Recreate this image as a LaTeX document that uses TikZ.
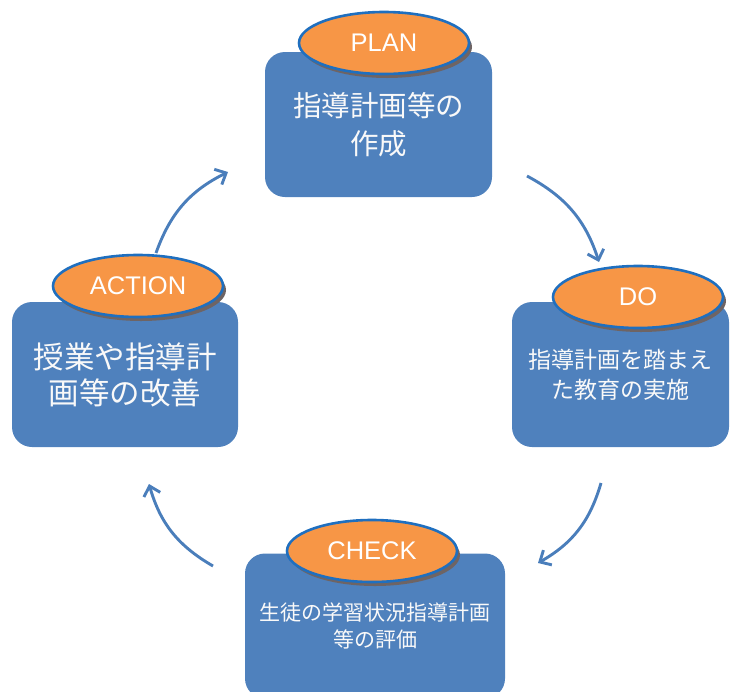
\documentclass[tikz,border=0pt]{standalone}
\usepackage{fontspec}
\setsansfont{Liberation Sans}
\newfontfamily\jpfont{Noto Sans CJK JP}
\usetikzlibrary{arrows.meta,shapes.geometric,shadows,positioning}

\definecolor{boxblue}{HTML}{4F81BD}
\definecolor{tagorange}{HTML}{F79646}
\definecolor{tagline}{HTML}{1F6FBF}
\definecolor{arrowblue}{HTML}{4A7EBB}
\definecolor{shadowgray}{HTML}{6E6464}

\begin{document}
\begin{tikzpicture}[
        x=1pt, y=-1pt,
        stagebox/.style={rectangle, rounded corners=20pt, fill=boxblue, text=white!95!gray,
            align=center, minimum height=145pt, inner sep=0pt},
        tag/.style={ellipse, draw=tagline, line width=2.6pt, fill=tagorange, text=white,
            minimum width=170pt, minimum height=62pt, inner sep=0pt,
            font=\sffamily\fontsize{25.5}{25.5}\selectfont,
            drop shadow={shadow xshift=3pt, shadow yshift=-4pt, fill=shadowgray, opacity=1}},
        cycle/.style={-{Straight Barb[length=9pt,width=17pt]}, draw=arrowblue, line width=2.9pt, bend left=22}
    ]
    \useasboundingbox (0,0) rectangle (730,691);

    % Nodes
    \node (plan)[stagebox, minimum width=227pt, font=\jpfont\fontsize{28.5}{38}\selectfont]
        at (378.5,124.5) {指導計画等の\\作成};
    \node (do)[stagebox, minimum width=217pt, font=\jpfont\fontsize{23}{30}\selectfont]
        at (620.5,374.5) {指導計画を踏まえ\\た教育の実施};
    \node (check)[stagebox, minimum width=260pt, font=\jpfont\fontsize{21}{27}\selectfont]
        at (375,626) {生徒の学習状況指導計画\\等の評価};
    \node (action)[stagebox, minimum width=226pt, font=\jpfont\fontsize{30.5}{36}\selectfont]
        at (125,374.5) {授業や指導計\\画等の改善};

    \node (plantag)[tag] at (384,43) {PLAN};
    \node (dotag)[tag] at (638,297) {DO};
    \node (checktag)[tag] at (372,551) {CHECK};
    \node (actiontag)[tag] at (138,286) {ACTION};

    % Arrow ends
    \coordinate (plan-out) at (527,176);
    \coordinate (do-in) at (599,262);
    \coordinate (do-out) at (601,483);
    \coordinate (check-in) at (538,563);
    \coordinate (check-out) at (213,566);
    \coordinate (action-in) at (149,484);
    \coordinate (action-out) at (156,253);
    \coordinate (plan-in) at (228,172);

    % Edges
    \draw[cycle] (plan-out) to (do-in);
    \draw[cycle] (do-out) to (check-in);
    \draw[cycle] (check-out) to (action-in);
    \draw[cycle] (action-out) to (plan-in);

\end{tikzpicture}
\end{document}
